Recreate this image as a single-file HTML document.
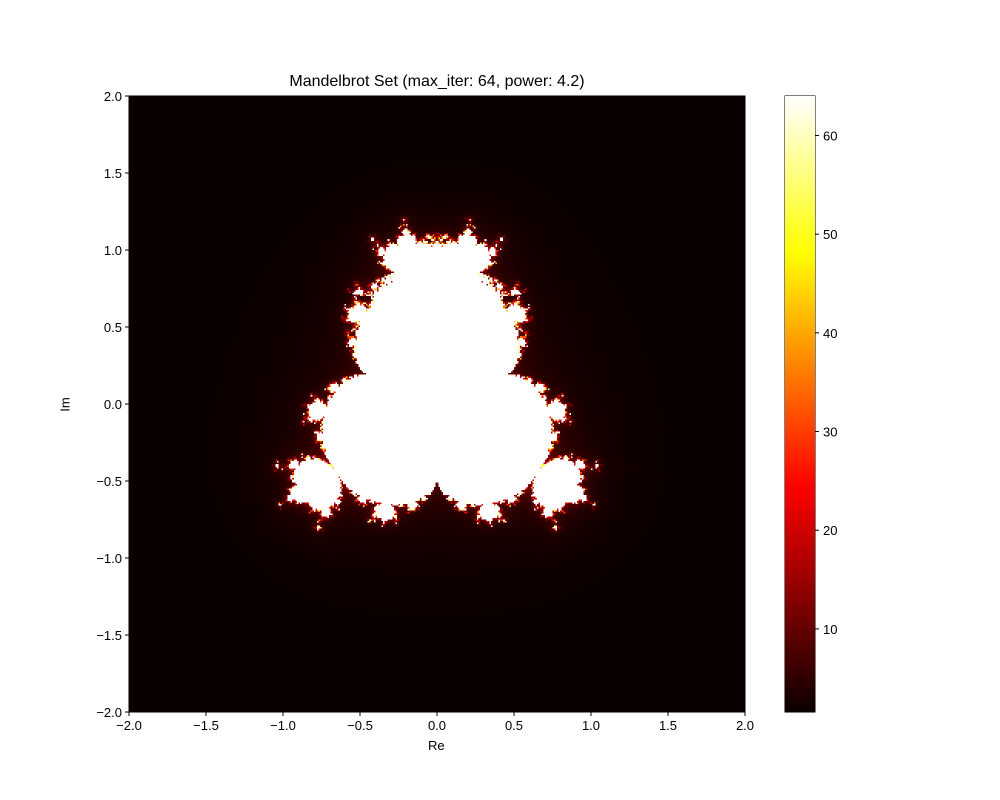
<!DOCTYPE html>
<html><head><meta charset="utf-8">
<style>
body{margin:0;background:#fff;width:1000px;height:800px;position:relative;font-family:"Liberation Sans",sans-serif;overflow:hidden}
.t{position:absolute;font-size:13px;color:#000;white-space:nowrap}
#plot{position:absolute;left:129px;top:96px;width:616px;height:616px;image-rendering:pixelated}
#cbar{position:absolute;left:785px;top:96px;width:30px;height:616px}
</style></head><body>
<div class="t" style="left:0;width:874px;text-align:center;top:73px;font-size:16px">Mandelbrot Set (max_iter: 64, power: 4.2)</div>
<canvas id="plot" width="400" height="400"></canvas>
<svg style="position:absolute;left:0;top:0" width="1000" height="800" id="ax"></svg>
<div id="cbar" style="background:linear-gradient(to top,rgb(11,0,0) 0%,rgb(255,0,0) 36.5%,rgb(255,255,0) 74.6%,rgb(255,255,255) 100%)"></div>
<div class="t" style="left:428px;top:738px">Re</div>
<div class="t" style="left:58px;top:397px;transform:rotate(-90deg)">Im</div>
<script>
const maxIter = 64;
const power = 4.2;
const xRange = [-2, 2];
const yRange = [-2, 2];
const xTicks = [-2.0,-1.5,-1.0,-0.5,0.0,0.5,1.0,1.5,2.0];
const yTicks = [-2.0,-1.5,-1.0,-0.5,0.0,0.5,1.0,1.5,2.0];
const cTicks = [10,20,30,40,50,60];
const cMin = 1.58, cMax = 64;

function hot(t){t=Math.max(0,Math.min(1,t));
 const r=Math.min(1,0.0416+t/0.365*(1-0.0416));
 const g=Math.max(0,Math.min(1,(t-0.365)/(0.746-0.365)));
 const b=Math.max(0,Math.min(1,(t-0.746)/(1-0.746)));
 return [r*255,g*255,b*255];}
const cv=document.getElementById('plot'),ctx=cv.getContext('2d');
const N=400,img=ctx.createImageData(N,N);
for(let j=0;j<N;j++){const Y=yRange[1]-(j+0.5)/N*(yRange[1]-yRange[0]);
 for(let i=0;i<N;i++){const X=xRange[0]+(i+0.5)/N*(xRange[1]-xRange[0]);
  const cr=-Y,ci=X;let zr=0,zi=0,v=maxIter;
  for(let k=0;k<maxIter;k++){
   const r=Math.hypot(zr,zi);
   if(r===0){zr=cr;zi=ci;}else{const th=Math.atan2(zi,zr)*power,rp=Math.pow(r,power);zr=rp*Math.cos(th)+cr;zi=rp*Math.sin(th)+ci;}
   const m=Math.hypot(zr,zi);
   if(m>2){v=k+1-Math.log(Math.log(m))/Math.log(power);break;}
  }
  const col=hot((v-cMin)/(cMax-cMin));const p=(j*N+i)*4;
  img.data[p]=col[0];img.data[p+1]=col[1];img.data[p+2]=col[2];img.data[p+3]=255;}}
ctx.putImageData(img,0,0);

const svg=document.getElementById('ax'),NS='http://www.w3.org/2000/svg';
const L=129,T=96,S=616;
const xs=v=>L+(v-xRange[0])/(xRange[1]-xRange[0])*S;
const ys=v=>T+S-(v-yRange[0])/(yRange[1]-yRange[0])*S;
const cs=v=>T+S-(v-cMin)/(cMax-cMin)*S;
function el(tag,a){const e=document.createElementNS(NS,tag);for(const k in a)e.setAttribute(k,a[k]);svg.appendChild(e);return e;}
const fmt=v=>(v<0?'\u2212':'')+Math.abs(v).toFixed(1);
const fr=el('rect',{x:L,y:T,width:S,height:S,fill:'none',stroke:'#000','stroke-width':1});


xTicks.forEach(v=>{const x=xs(v);
 const l=el('line',{x1:x,x2:x,y1:T+S,y2:T+S+4,stroke:'#000'});
 
 
 const t=el('text',{x:x,y:T+S+18,'text-anchor':'middle','font-size':13,'font-family':'Liberation Sans, sans-serif'});t.textContent=fmt(v);
 
 });
yTicks.forEach(v=>{const y=ys(v);
 const l=el('line',{x1:L-4,x2:L,y1:y,y2:y,stroke:'#000'});
 
 
 const t=el('text',{x:L-7,y:y+5,'text-anchor':'end','font-size':13,'font-family':'Liberation Sans, sans-serif'});t.textContent=fmt(v);
 
 });
const cf=el('rect',{x:785,y:T,width:30,height:S,fill:'none',stroke:'#000'});


cTicks.forEach(v=>{const y=cs(v);
 const l=el('line',{x1:815,x2:819,y1:y,y2:y,stroke:'#000'});
 
 
 const t=el('text',{x:823,y:y+5,'font-size':13,'font-family':'Liberation Sans, sans-serif'});t.textContent=v;
 
 });
</script>
</body></html>
